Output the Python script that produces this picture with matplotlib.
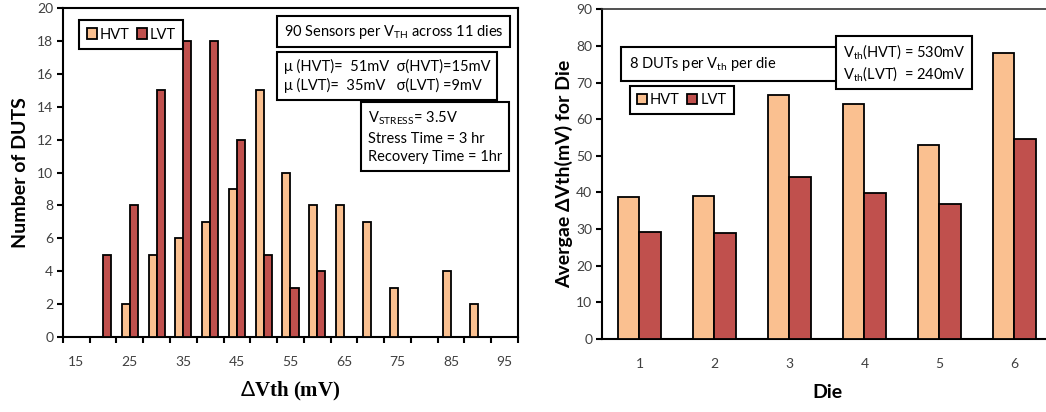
import numpy as np
import matplotlib
matplotlib.use('Agg')
import matplotlib.pyplot as plt
from matplotlib.patches import Rectangle

plt.rcParams['font.family'] = ['Lato', 'DejaVu Sans']
plt.rcParams['mathtext.fontset'] = 'custom'
plt.rcParams['mathtext.rm'] = 'Lato'
plt.rcParams['mathtext.it'] = 'Lato'

# left: histogram of delta Vth
bins = [15, 20, 25, 30, 35, 40, 45, 50, 55, 60, 65, 70, 75, 80, 85, 90, 95]
hvt_count = [0, 0, 2, 5, 6, 7, 9, 15, 10, 8, 8, 7, 3, 0, 4, 2, 0]
lvt_count = [0, 5, 8, 15, 18, 18, 12, 5, 3, 4, 0, 0, 0, 0, 0, 0, 0]

# right: average delta Vth per die
dies = ['1', '2', '3', '4', '5', '6']
hvt_avg = [38.7, 39.0, 66.5, 64.1, 52.9, 78.0]
lvt_avg = [29.3, 29.0, 44.3, 39.9, 36.8, 54.5]

c_hvt = '#FAC090'
c_lvt = '#C0504D'
tick_col = '#404040'

fig = plt.figure(figsize=(10.46, 4.12), dpi=100)


def boxed_legend(ax, anchor):
    leg = ax.legend(loc='upper left', bbox_to_anchor=anchor, ncol=2, fontsize=10.5, frameon=False,
                    handlelength=0.7, handleheight=0.7, columnspacing=0.5, handletextpad=0.2,
                    borderpad=0.5)
    fig.canvas.draw()
    bb = leg.get_window_extent().transformed(ax.transAxes.inverted())
    ax.add_patch(Rectangle((bb.x0, bb.y0), bb.width, bb.height, transform=ax.transAxes,
                           facecolor='white', edgecolor='black', linewidth=1.5, zorder=4))
    leg.set_zorder(6)
    return leg


# ---------------- left chart
ax1 = fig.add_axes([0.0602, 0.182, 0.435, 0.7985])
x = np.arange(len(bins))
w = 0.3
ax1.bar(x - w/2, hvt_count, w, color=c_hvt, edgecolor='black', linewidth=1.3, label='HVT', zorder=3)
ax1.bar(x + w/2, lvt_count, w, color=c_lvt, edgecolor='black', linewidth=1.3, label='LVT', zorder=3)
ax1.set_xlim(-0.5, len(bins) - 0.5)
ax1.set_ylim(0, 20)
ax1.set_yticks(range(0, 21, 2))
ax1.set_xticks(x[::2])
ax1.set_xticklabels([str(b) for b in bins[::2]])
ax1.set_xticks(np.arange(-0.5, len(bins)), minor=True)
ax1.tick_params(axis='x', which='major', length=0, pad=14, labelsize=10, labelcolor=tick_col)
ax1.tick_params(axis='x', which='minor', length=4, width=1.5, direction='out')
ax1.tick_params(axis='y', length=4, width=1.5, direction='out', labelsize=10, labelcolor=tick_col, pad=3)
for s in ax1.spines.values():
    s.set_linewidth(1.5)
ax1.set_ylabel('Number of DUTS', fontsize=14, fontweight='bold', labelpad=6)
ax1.set_xlabel(r'$\Delta$Vth (mV)', fontsize=15, fontweight='bold', family='Liberation Serif', labelpad=8)

box = dict(boxstyle='square,pad=0.35', facecolor='white', edgecolor='black', linewidth=1.5)
ax1.text(0.485, 0.955, r'90 Sensors per V$_{\mathrm{TH}}$ across 11 dies', transform=ax1.transAxes,
         fontsize=10.5, va='top', ha='left', bbox=dict(box, boxstyle='square,pad=0.45'))
ax1.text(0.485, 0.845, 'μ (HVT)=  51mV  σ(HVT)=15mV\nμ (LVT)=  35mV   σ(LVT) =9mV',
         transform=ax1.transAxes, fontsize=10.5, va='top', ha='left', linespacing=1.35,
         bbox=dict(box, boxstyle='square,pad=0.45'))
ax1.text(0.67, 0.69, 'V$_{\\mathrm{STRESS}}$= 3.5V\nStress Time = 3 hr\nRecovery Time = 1hr',
         transform=ax1.transAxes, fontsize=10.5, va='top', ha='left', linespacing=1.4,
         bbox=dict(box, boxstyle='square,pad=0.45'))

# ---------------- right chart
ax2 = fig.add_axes([0.5755, 0.1772, 0.4302, 0.8002])
xd = np.arange(len(dies))
w2 = 0.287
ax2.bar(xd - w2/2, hvt_avg, w2, color=c_hvt, edgecolor='black', linewidth=1.3, label='HVT', zorder=3)
ax2.bar(xd + w2/2, lvt_avg, w2, color=c_lvt, edgecolor='black', linewidth=1.3, label='LVT', zorder=3)
ax2.set_xlim(-0.5, len(dies) - 0.5)
ax2.set_ylim(0, 90)
ax2.set_yticks(range(0, 91, 10))
ax2.set_xticks(xd)
ax2.set_xticklabels(dies)
ax2.tick_params(axis='x', length=0, pad=14, labelsize=10, labelcolor=tick_col)
ax2.tick_params(axis='y', length=4, width=1.5, direction='out', labelsize=10, labelcolor=tick_col, pad=3)
for s in ax2.spines.values():
    s.set_linewidth(1.5)
ax2.spines['top'].set_linewidth(1.2)
ax2.spines['top'].set_color('#333333')
ax2.set_ylabel('Avergae ΔVth(mV) for Die', fontsize=14, fontweight='bold', labelpad=2)
ax2.set_xlabel('Die', fontsize=14, fontweight='bold', labelpad=10)
ax2.text(0.06, 0.86, r'8 DUTs per V$_{\mathrm{th}}$ per die' + ' ' * 21, transform=ax2.transAxes,
         fontsize=10.5, va='top', ha='left', bbox=dict(box, boxstyle='square,pad=0.55'))
ax2.text(0.535, 0.9, 'V$_{\\mathrm{th}}$(HVT) = 530mV\nV$_{\\mathrm{th}}$(LVT)  = 240mV',
         transform=ax2.transAxes, fontsize=10.5, va='top', ha='left', linespacing=1.2,
         bbox=dict(box, boxstyle='square,pad=0.45'))

boxed_legend(ax1, (0.02, 0.985))
boxed_legend(ax2, (0.045, 0.79))

fig.savefig('out.png', dpi=100)
